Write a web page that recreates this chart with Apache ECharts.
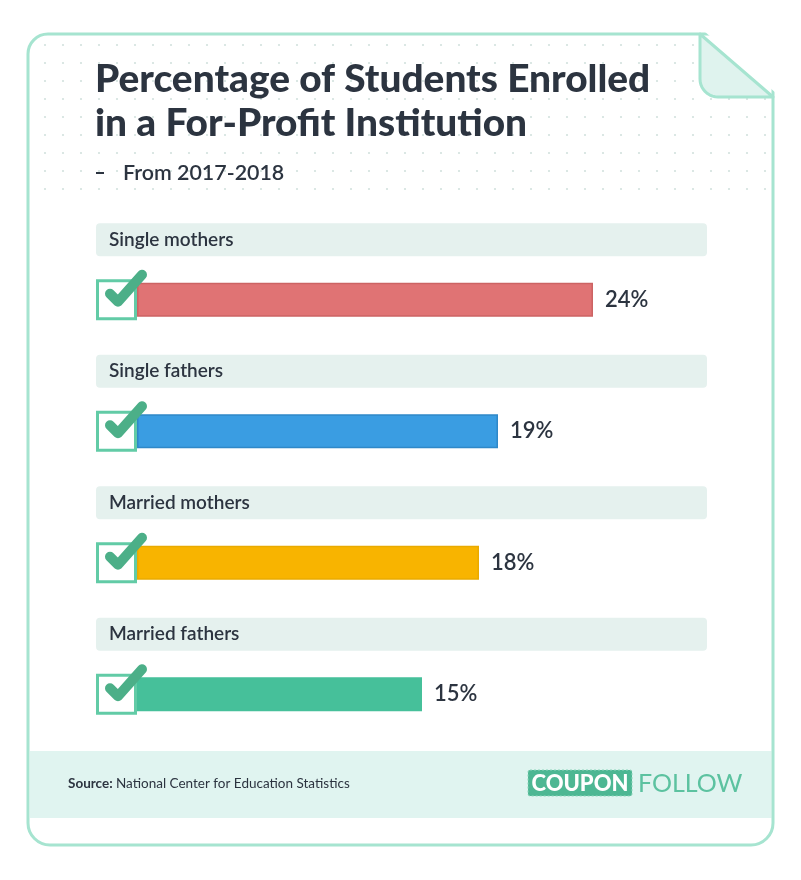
<!DOCTYPE html>
<html>
<head>
<meta charset="utf-8">
<script src="https://cdn.jsdelivr.net/npm/echarts@6/dist/echarts.min.js"></script>
<style>
html,body{margin:0;padding:0;background:#ffffff;}
#chart{width:801px;height:880px;}
</style>
</head>
<body>
<div id="chart"></div>
<script>
// ---- data ----
const categories = ['Single mothers', 'Single fathers', 'Married mothers', 'Married fathers'];
const values = [24, 19, 18, 15];
const barColors = ['#e07374', '#3a9de2', '#f8b400', '#46c09a'];
const barBorders = ['#cc6363', '#2f88c8', '#e9aa00', '#46c09a'];
const titleLines = ['Percentage of Students Enrolled', 'in a For-Profit Institution'];
const subtitle = 'From 2017-2018';
const sourceLabel = 'Source:';
const sourceText = 'National Center for Education Statistics';

const dark = '#2c3440';
const mint = '#a6e4d0';
const checkGreen = '#4caf88';

// quarter-arc helper for decoration outlines
function arcPts(cx, cy, r, a0, a1, n) {
  const pts = [];
  for (let k = 0; k <= n; k++) {
    const a = a0 + (a1 - a0) * k / n;
    pts.push([cx + r * Math.cos(a), cy + r * Math.sin(a)]);
  }
  return pts;
}

// dot pattern
const pc = document.createElement('canvas');
pc.width = 18; pc.height = 18;
const pctx = pc.getContext('2d');
pctx.fillStyle = '#d3e2de';
pctx.beginPath(); pctx.arc(9, 9, 1.1, 0, Math.PI * 2); pctx.fill();

const dotArea = [].concat(arcPts(50, 56, 20, Math.PI, Math.PI * 1.5, 8), [[699, 36], [771, 98], [771, 205], [30, 205]]);
const foldPts = [].concat([[700, 34]], arcPts(718, 79, 18, Math.PI, Math.PI * 0.5, 10), [[773, 97]]);

const chart = echarts.init(document.getElementById('chart'), null, {renderer: 'canvas'});

const option = {
  animation: false,
  grid: {left: 137, width: 570, top: 234, height: 526},
  xAxis: {type: 'value', min: 0, max: 30, show: false},
  yAxis: {type: 'category', data: categories, inverse: true, show: false},
  graphic: {
    elements: [
      {type: 'polygon', z: 0, shape: {points: dotArea}, style: {fill: {image: pc, repeat: 'repeat'}}},
      {type: 'rect', z: 0, shape: {x: 30, y: 751, width: 741.5, height: 67}, style: {fill: '#e0f4f0'}},
      {type: 'rect', z: 1, shape: {x: 28, y: 34, width: 745, height: 811, r: [20, 0, 22, 22]},
        style: {fill: 'none', stroke: mint, lineWidth: 3}},
      {type: 'polygon', z: 1, shape: {points: [[700.5, 28], [780, 28], [780, 96.5]]}, style: {fill: '#ffffff'}},
      {type: 'polygon', z: 1, shape: {points: foldPts},
        style: {fill: '#dff3ee', stroke: mint, lineWidth: 3, lineJoin: 'round'}},
      {type: 'text', z: 1, style: {text: titleLines[0], x: 95, y: 79, verticalAlign: 'middle', fill: dark,
        font: '900 38.8px Lato'}},
      {type: 'text', z: 1, style: {text: titleLines[1], x: 95, y: 123, verticalAlign: 'middle', fill: dark,
        font: '900 38.8px Lato'}},
      {type: 'rect', z: 1, shape: {x: 96, y: 172, width: 8, height: 2}, style: {fill: dark}},
      {type: 'text', z: 1, style: {text: subtitle, x: 123, y: 173, verticalAlign: 'middle', fill: dark,
        font: '600 21.4px Lato'}},
      {type: 'text', z: 1, style: {
        text: '{b|' + sourceLabel + '} {n|' + sourceText + '}', x: 68, y: 784, verticalAlign: 'middle',
        rich: {b: {fontFamily: 'Lato', fontWeight: 'bold', fontSize: 13.5, fill: dark},
               n: {fontFamily: 'Lato', fontSize: 13.5, fill: dark}}}},
      {type: 'rect', z: 1, shape: {x: 528, y: 770, width: 104, height: 26, r: 2},
        style: {fill: '#4db793', stroke: '#8fd6bd', lineWidth: 1, lineDash: [2, 2]}},
      {type: 'text', z: 2, style: {text: 'COUPON', x: 580, y: 784, align: 'center', verticalAlign: 'middle',
        fill: '#ffffff', font: '900 22px Lato', textShadowColor: '#2b5f4e', textShadowBlur: 0, textShadowOffsetX: 1, textShadowOffsetY: 1}},
      {type: 'text', z: 1, style: {text: 'FOLLOW', x: 638, y: 784, verticalAlign: 'middle',
        fill: '#5cc2a0', font: '25px Lato'}}
    ]
  },
  series: [
    {
      type: 'bar',
      z: 2,
      barWidth: 34,
      data: values.map((v, i) => ({value: v, itemStyle: {color: barColors[i], borderColor: barBorders[i], borderWidth: 1.5}})),
      label: {show: true, position: 'right', distance: 12, formatter: '{c}%', color: dark,
        fontFamily: 'Lato', fontSize: 22, fontWeight: 600}
    },
    {
      type: 'custom',
      z: 3,
      data: categories.map((c, i) => [0, i]),
      encode: {x: 0, y: 1},
      renderItem: function (params, api) {
        const i = api.value(1);
        const p0 = api.coord([0, i]);
        const p1 = api.coord([30, i]);
        const x0 = p0[0], cy = p0[1];
        return {
          type: 'group',
          children: [
            {type: 'rect', shape: {x: x0 - 41, y: cy - 76.5, width: p1[0] - x0 + 41, height: 33, r: 4},
              style: {fill: '#e5f1ee'}},
            {type: 'text', style: {text: categories[i], x: x0 - 28, y: cy - 60, verticalAlign: 'middle',
              fill: dark, font: '600 19px Lato'}},
            {type: 'rect', shape: {x: x0 - 39.5, y: cy - 19, width: 38, height: 38},
              style: {fill: '#ffffff', stroke: '#62cba6', lineWidth: 3}},
            {type: 'polyline', shape: {points: [[x0 - 27, cy - 6], [x0 - 19, cy + 2], [x0 + 5, cy - 25]]},
              style: {stroke: checkGreen, lineWidth: 10, lineCap: 'round', lineJoin: 'round', fill: 'none'}}
          ]
        };
      }
    }
  ]
};
chart.setOption(option);
</script>
</body>
</html>
